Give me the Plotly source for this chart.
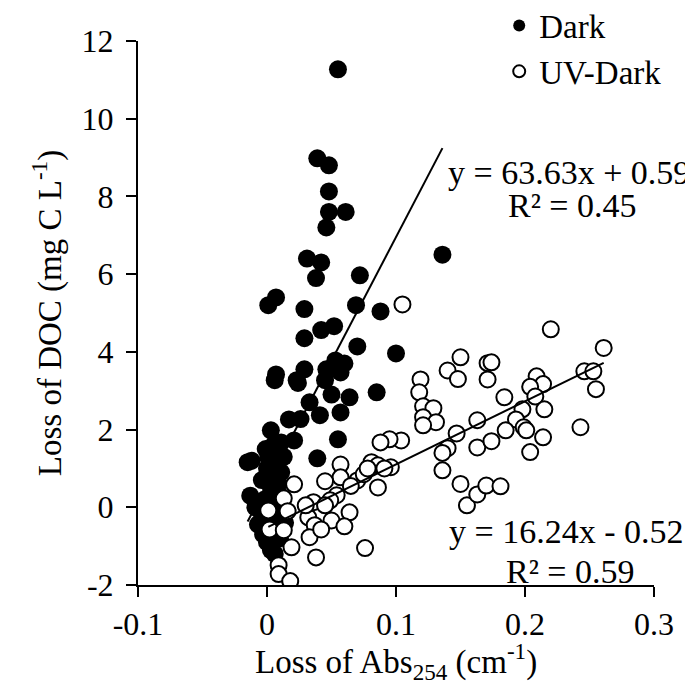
import plotly.graph_objects as go

# ---- data ----
dark_x = [0.055, 0.039, 0.048, 0.048, 0.048, 0.061, 0.046, 0.031, 0.042, 0.136,
          0.038, 0.072, 0.001, 0.007, 0.029, 0.069, 0.088, 0.052, 0.042, 0.029,
          0.070, 0.100, 0.007, 0.029, 0.023, 0.053, 0.060, 0.046, 0.057, 0.006,
          0.024, 0.045, 0.085, 0.033, 0.050, 0.064, 0.041, 0.057, 0.017, 0.026,
          0.003, 0.021, 0.011, 0.055, 0.039, -0.015, 0.001,
          -0.012, -0.013, -0.007, 0.003, 0.006, 0.000, 0.005, 0.008, -0.004, 0.003,
          0.009, -0.002, 0.006, 0.010, -0.005, 0.002, 0.008, -0.003, 0.004, 0.010,
          0.000, 0.012, 0.007, 0.013, 0.011, -0.001, -0.009, 0.005, 0.014]
dark_y = [11.27, 8.98, 8.80, 8.13, 7.60, 7.60, 7.20, 6.40, 6.30, 6.50,
          5.90, 5.97, 5.20, 5.40, 5.10, 5.20, 5.04, 4.66, 4.56, 4.35,
          4.14, 3.96, 3.42, 3.55, 3.27, 3.78, 3.70, 3.55, 3.47, 3.27,
          3.20, 3.27, 2.96, 2.70, 2.90, 2.83, 2.37, 2.44, 2.26, 2.27,
          1.98, 1.72, 1.67, 1.75, 1.26, 1.16, 1.29,
          1.20, 0.30, -0.44, -1.10, -1.20, 1.00, 0.90, 1.10, 0.70, 0.50,
          0.60, 0.20, 0.10, 0.30, -0.10, -0.30, -0.20, -0.70, -0.60, -0.80,
          -0.90, 0.00, -0.50, 1.30, 0.90, 1.50, 0.00, 1.60, -0.40]

uv_x = [0.105, 0.220, 0.261, 0.150, 0.171, 0.174, 0.140, 0.148, 0.171, 0.119,
        0.246, 0.253, 0.255, 0.209, 0.214, 0.204, 0.118, 0.121, 0.129, 0.121,
        0.131, 0.121, 0.184, 0.208, 0.215, 0.198, 0.193, 0.199, 0.201, 0.185,
        0.163, 0.147, 0.140, 0.136, 0.163, 0.174, 0.214, 0.204, 0.243, 0.104,
        0.095, 0.088, 0.136, 0.150, 0.155, 0.163, 0.170, 0.181,
        0.057, 0.081, 0.086, 0.096, 0.057, 0.045, 0.070, 0.086, 0.021, 0.013,
        0.036, 0.054, 0.049, 0.001, 0.016, 0.032, 0.064, 0.002, 0.013, 0.050,
        0.037, 0.060, 0.033, 0.042, 0.019, 0.076, 0.038, 0.009, 0.009, 0.018,
        0.075, 0.078, 0.091, 0.065, 0.030, 0.045]
uv_y = [5.22, 4.58, 4.10, 3.86, 3.71, 3.73, 3.52, 3.30, 3.29, 3.29,
        3.50, 3.50, 3.04, 3.37, 3.17, 3.10, 2.96, 2.60, 2.55, 2.32,
        2.19, 2.11, 2.83, 2.85, 2.52, 2.52, 2.26, 2.06, 1.98, 1.98,
        2.24, 1.90, 1.52, 1.40, 1.54, 1.70, 1.80, 1.42, 2.06, 1.72,
        1.75, 1.67, 0.95, 0.60, 0.05, 0.33, 0.56, 0.54,
        1.10, 1.16, 1.08, 1.03, 0.77, 0.67, 0.69, 0.51, 0.59, 0.23,
        0.13, 0.31, 0.18, -0.08, -0.10, -0.26, -0.13, -0.57, -0.59, -0.34,
        -0.46, -0.49, -0.77, -0.57, -1.03, -1.05, -1.29, -1.49, -1.72, -1.90,
        0.85, 1.00, 1.00, 0.55, 0.05, 0.05]

dark_slope, dark_icept, dark_r2 = 63.63, 0.59, 0.45
uv_slope, uv_icept, uv_r2 = 16.24, -0.52, 0.59

x_tickvals = [-0.1, 0, 0.1, 0.2, 0.3]
x_ticktext = ["-0.1", "0", "0.1", "0.2", "0.3"]
y_tickvals = [-2, 0, 2, 4, 6, 8, 10, 12]
y_ticktext = ["-2", "0", "2", "4", "6", "8", "10", "12"]

x_title = "Loss of Abs<sub>254</sub> (cm<sup>-1</sup>)"
y_title = "Loss of DOC (mg C L<sup>-1</sup>)"

FONT = "Liberation Serif"
FS_TICK = 32
FS_TITLE = 33
FS_LEG = 33
FS_ANN = 34

fig = go.Figure()
fig.add_trace(go.Scatter(
    x=dark_x, y=dark_y, mode="markers", name="Dark",
    marker=dict(size=18, color="black", line=dict(width=0)),
))
fig.add_trace(go.Scatter(
    x=uv_x, y=uv_y, mode="markers", name="UV-Dark",
    marker=dict(size=16, color="white", line=dict(width=2, color="black")),
))

# trend lines over each series' x-range
dx = [min(dark_x), max(dark_x)]
fig.add_trace(go.Scatter(x=dx, y=[dark_slope * v + dark_icept for v in dx],
                         mode="lines", line=dict(color="black", width=2),
                         showlegend=False, hoverinfo="skip"))
ux = [min(uv_x), max(uv_x)]
fig.add_trace(go.Scatter(x=ux, y=[uv_slope * v + uv_icept for v in ux],
                         mode="lines", line=dict(color="black", width=2),
                         showlegend=False, hoverinfo="skip"))

ann = [
    (0.234, 8.62, f"y = {dark_slope:.2f}x + {dark_icept:.2f}"),
    (0.237, 7.77, f"R² = {dark_r2:.2f}"),
    (0.232, -0.62, f"y = {uv_slope:.2f}x - {abs(uv_icept):.2f}"),
    (0.235, -1.65, f"R² = {uv_r2:.2f}"),
]
for ax_, ay_, t in ann:
    fig.add_annotation(x=ax_, y=ay_, text=t, showarrow=False,
                       xanchor="center", yanchor="middle",
                       font=dict(family=FONT, size=FS_ANN, color="black"))

# x-axis title as a paper-positioned annotation
fig.add_annotation(x=0.5, y=-0.140, xref="paper", yref="paper", text=x_title,
                   showarrow=False, xanchor="center", yanchor="middle",
                   font=dict(family=FONT, size=FS_TITLE, color="black"))

axis_common = dict(showgrid=False, zeroline=False, showline=True, linewidth=2,
                   linecolor="black", ticks="outside", ticklen=10, tickwidth=2,
                   tickcolor="black", automargin=False,
                   tickfont=dict(family=FONT, size=FS_TICK, color="black"))

fig.update_layout(
    width=693, height=686,
    margin=dict(l=130, r=47, t=33, b=109, autoexpand=False),
    paper_bgcolor="white", plot_bgcolor="white",
    font=dict(family=FONT, size=FS_TICK, color="black"),
    xaxis=dict(range=[-0.1, 0.3], tickvals=x_tickvals, ticktext=x_ticktext,
               **axis_common),
    yaxis=dict(range=[-2, 12], tickvals=y_tickvals, ticktext=y_ticktext,
               ticklabelstandoff=6,
               title=dict(text=y_title,
                          font=dict(family=FONT, size=FS_TITLE), standoff=10),
               **axis_common),
    legend=dict(x=0.70, y=1.08, xanchor="left", yanchor="top",
                bgcolor="rgba(0,0,0,0)", font=dict(family=FONT, size=FS_LEG),
                itemsizing="constant", tracegroupgap=0),
    showlegend=True,
)

fig.write_html("out.html")
